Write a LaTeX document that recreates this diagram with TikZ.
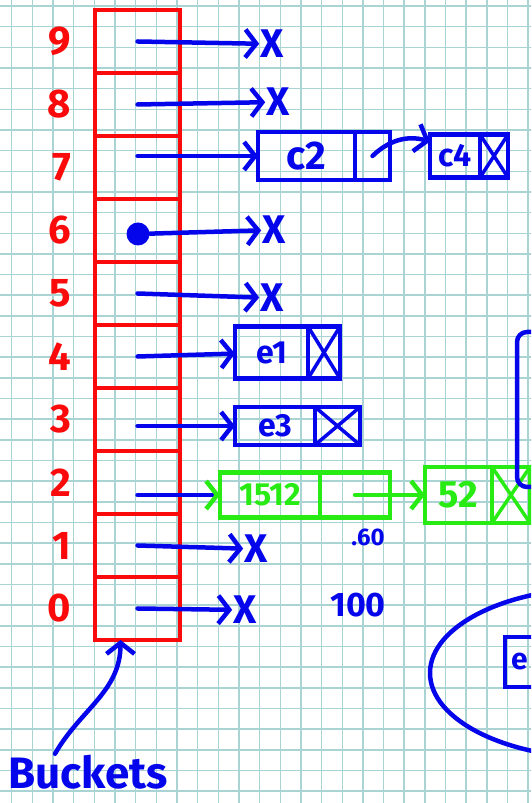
\documentclass[tikz,border=0pt]{standalone}
\usepackage{fontspec}
\setmainfont{Fira Sans}
\usetikzlibrary{arrows.meta,positioning}
\definecolor{handred}{RGB}{250,10,10}
\definecolor{handblue}{RGB}{5,5,235}
\definecolor{handgreen}{RGB}{40,235,20}
\definecolor{gridcol}{RGB}{170,212,212}
\tikzset{
  gridline/.style={draw=gridcol, line width=1.5pt},
  bucket/.style={draw=handred, line width=4.5pt, minimum width=85pt, minimum height=63pt, inner sep=0pt, outer sep=0pt},
  index/.style={text=handred, font=\bfseries\fontsize{40}{40}\selectfont, inner sep=0pt},
  link/.style={draw=handblue, line width=4.5pt, line cap=round, line join=round, -{Straight Barb[length=11pt,width=28pt]}},
  nil/.style={text=handblue, font=\bfseries\fontsize{40}{40}\selectfont, inner sep=1pt},
  note/.style={text=handblue, font=\bfseries, inner sep=0pt},
  cell/.style={draw=handblue, text=handblue, line width=4.5pt, inner sep=0pt, outer sep=0pt, font=\bfseries\fontsize{32}{32}\selectfont},
  gcell/.style={cell, draw=handgreen, text=handgreen},
  null/.style={cell, path picture={\draw[#1, line width=3.5pt] (path picture bounding box.north west) -- (path picture bounding box.south east) (path picture bounding box.north east) -- (path picture bounding box.south west);}},
  null/.default=handblue
}
\begin{document}
\begin{tikzpicture}[x=1pt,y=1pt]
   \useasboundingbox (0,0) rectangle (531,803);
   \clip (0,0) rectangle (531,803);
   \fill[white] (0,0) rectangle (531,803);
   \draw[gridline, shift={(11.7,11.92)}] (-20,-20) grid[step=20.66] (530,800);

   \node[bucket] (b0) at (137.5,194.5) {};
   \node[bucket] (b1) [above=0pt of b0] {};
   \node[bucket] (b2) [above=0pt of b1] {};
   \node[bucket] (b3) [above=0pt of b2] {};
   \node[bucket] (b4) [above=0pt of b3] {};
   \node[bucket] (b5) [above=0pt of b4] {};
   \node[bucket] (b6) [above=0pt of b5] {};
   \node[bucket] (b7) [above=0pt of b6] {};
   \node[bucket] (b8) [above=0pt of b7] {};
   \node[bucket] (b9) [above=0pt of b8] {};
   \node[index] (i0) [left=24pt of b0] {0};
   \node[index] (i1) [left=24pt of b1] {1};
   \node[index] (i2) [left=24pt of b2] {2};
   \node[index] (i3) [left=24pt of b3] {3};
   \node[index] (i4) [left=24pt of b4] {4};
   \node[index] (i5) [left=24pt of b5] {5};
   \node[index] (i6) [left=24pt of b6] {6};
   \node[index] (i7) [left=24pt of b7] {7};
   \node[index] (i8) [left=24pt of b8] {8};
   \node[index] (i9) [left=24pt of b9] {9};

   \node[cell, minimum width=97pt, minimum height=48pt, font=\bfseries\fontsize{40}{40}\selectfont] (c2) at (306.5,647) {c2};
   \node[cell, minimum width=35pt, minimum height=48pt] (c2n) [right=0pt of c2] {};
   \node[cell, minimum width=50pt, minimum height=43pt] (c4) [right=40pt of c2n] {c4};
   \node[null, minimum width=28pt, minimum height=43pt] (c4n) [right=0pt of c4] {};
   \node[cell, minimum width=73pt, minimum height=52pt] (e1) at (271.5,450.5) {e1};
   \node[null, minimum width=32pt, minimum height=52pt] (e1n) [right=0pt of e1] {};
   \node[cell, minimum width=80pt, minimum height=38pt] (e3) at (275,377) {e3};
   \node[null, minimum width=45pt, minimum height=38pt] (e3n) [right=0pt of e3] {};
   \node[gcell, minimum width=100pt, minimum height=45pt] (k1512) at (270,308) {1512};
   \node[gcell, minimum width=70pt, minimum height=45pt] (k1512n) [right=0pt of k1512] {};
   \node[gcell, minimum width=67pt, minimum height=56pt, font=\bfseries\fontsize{38}{38}\selectfont] (k52) [right=35pt of k1512n] {52};
   \node[null=handgreen, draw=handgreen, minimum width=38pt, minimum height=56pt] (k52n) [right=0pt of k52] {};

   \node[nil] (x9) at (272,759) {X};
   \node[nil] (x8) at (278,701) {X};
   \node[nil] (x6) at (274,573) {X};
   \node[nil] (x5) at (272,505) {X};
   \node[nil] (x1) at (256,254) {X};
   \node[nil] (x0) at (245,193) {X};
   \node[circle, fill=handblue, minimum size=23pt, inner sep=0pt] (d6) at (138,569) {};

   \node[note, font=\bfseries\fontsize{24}{24}\selectfont] (m1) at (368,266) {.60};
   \node[note, font=\bfseries\fontsize{34}{34}\selectfont] (m0) at (358,198) {100};
   \node[note, font=\bfseries\fontsize{44}{44}\selectfont, inner sep=1pt] (buck) at (88,31) {Buckets};

   \draw[handblue, line width=4.5pt, rounded corners=10pt] (540,471) -- (517,471) -- (517,316) -- (540,316);
   \draw[handblue, line width=4.5pt] (600,130) ellipse [x radius=170, y radius=85];
   \node[cell, anchor=west, text width=50pt, align=left, inner xsep=6pt, minimum height=50pt, font=\bfseries\fontsize{30}{30}\selectfont] (e9) at (505,141) {e};

   \draw[link] (b9.center) -- (x9);
   \draw[link] (b8.center) -- (x8);
   \draw[link] (b7.center |- c2.west) -- (c2.west);
   \draw[link] (d6) -- (x6);
   \draw[link] (b5.center) -- (x5);
   \draw[link] (b4.center) -- (e1);
   \draw[link] (b3.center |- e3.west) -- (e3.west);
   \draw[link, -{Straight Barb[length=11pt,width=28pt,color=handgreen]}] (b2.center |- k1512.west) -- (k1512.west);
   \draw[link] (b1.center) -- (x1);
   \draw[link] (b0.center) -- (x0);
   \draw[link] (c2n.center) to[bend left=30] (c4);
   \draw[link, draw=handgreen] (k1512n.center) -- (k52);
   \draw[link] ([xshift=-33pt]buck.north) to[out=60,in=-90] ([xshift=-17pt]b0.south);
\end{tikzpicture}
\end{document}
